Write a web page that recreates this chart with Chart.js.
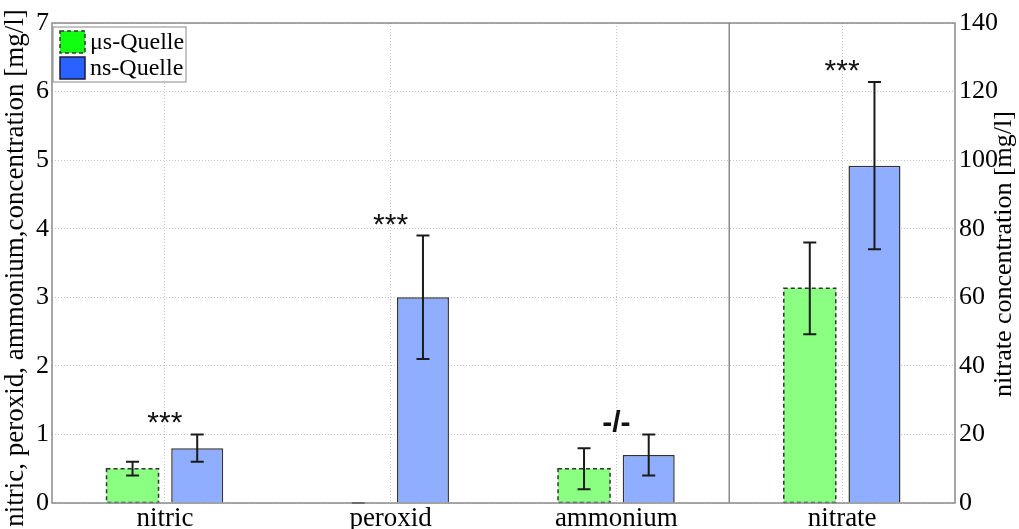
<!DOCTYPE html>
<html>
<head>
<meta charset="utf-8">
<script src="https://cdn.jsdelivr.net/npm/chart.js@4"></script>
<style>
  body { margin: 0; background: #fff; }
  #wrap { width: 1019px; height: 529px; }
</style>
</head>
<body>
<div id="wrap"><canvas id="myChart"></canvas></div>
<script>
// categories and values
var categories = ["nitric", "peroxid", "ammonium", "nitrate"];

// left axis (mg/l): nitric, peroxid, ammonium
var usLeft = [0.5, 0, 0.5, null];
var usLeftErr = [0.1, 0, 0.3, null];
var nsLeft = [0.8, 3.0, 0.7, null];
var nsLeftErr = [0.2, 0.9, 0.3, null];

// right axis (mg/l): nitrate
var usRight = [null, null, null, 62.6];
var usRightErr = [null, null, null, 13.4];
var nsRight = [null, null, null, 98.4];
var nsRightErr = [null, null, null, 24.4];

var marks = ["***", "***", "-/-", "***"];

var leftTitle = "nitric, peroxid, ammonium,concentration [mg/l]";
var rightTitle = "nitrate concentration [mg/l]";

var greenBar = "rgb(138,255,130)";
var blueBar = "rgb(143,174,255)";
var frameColor = "#8a8a8a";
var serif = "'Liberation Serif', 'DejaVu Serif', serif";

// error bars, dashed borders, significance marks, frame, legend, axis titles
var extras = {
    id: "extras",
    beforeDatasetsDraw: function (chart) {
        var ctx = chart.ctx;
        var a = chart.chartArea;
        var x = chart.scales.x;
        // solid separator between ammonium and nitrate
        var sx = (x.getPixelForValue(2) + x.getPixelForValue(3)) / 2;
        ctx.save();
        ctx.strokeStyle = frameColor;
        ctx.lineWidth = 1.5;
        ctx.beginPath();
        ctx.moveTo(sx, a.top);
        ctx.lineTo(sx, a.bottom);
        ctx.stroke();
        ctx.restore();
    },
    afterDatasetsDraw: function (chart) {
        var ctx = chart.ctx;
        var a = chart.chartArea;
        var topPix = [];

        chart.data.datasets.forEach(function (ds, i) {
            var meta = chart.getDatasetMeta(i);
            var scale = chart.scales[ds.yAxisID];
            meta.data.forEach(function (el, j) {
                var v = ds.data[j];
                if (v === null || v === undefined) return;
                // dashed outline for the μs bars
                if (ds.dashed && v > 0) {
                    ctx.save();
                    ctx.strokeStyle = "#333";
                    ctx.lineWidth = 1.5;
                    ctx.setLineDash([4, 3]);
                    ctx.strokeRect(el.x - el.width / 2, el.y, el.width, el.base - el.y);
                    ctx.restore();
                }
                var e = ds.err[j];
                var yt = scale.getPixelForValue(v + e);
                var yb = scale.getPixelForValue(v - e);
                ctx.save();
                ctx.strokeStyle = "#1a1a1a";
                ctx.lineWidth = 2;
                ctx.beginPath();
                ctx.moveTo(el.x, yt);
                ctx.lineTo(el.x, yb);
                ctx.moveTo(el.x - 6.5, yt);
                ctx.lineTo(el.x + 6.5, yt);
                ctx.moveTo(el.x - 6.5, yb);
                ctx.lineTo(el.x + 6.5, yb);
                ctx.stroke();
                ctx.restore();
                if (topPix[j] === undefined || yt < topPix[j]) topPix[j] = yt;
            });
        });

        // significance marks
        ctx.save();
        ctx.fillStyle = "#111";
        ctx.textAlign = "center";
        ctx.textBaseline = "alphabetic";
        marks.forEach(function (m, j) {
            var cx = chart.scales.x.getPixelForValue(j);
            ctx.font = m === "-/-" ? "bold 30px 'Liberation Sans', Arial, sans-serif" : "30px 'Liberation Sans', Arial, sans-serif";
            ctx.fillText(m, cx, topPix[j] - 2);
        });
        ctx.restore();

        // frame
        ctx.save();
        ctx.strokeStyle = frameColor;
        ctx.lineWidth = 1.5;
        ctx.strokeRect(a.left, a.top, a.right - a.left, a.bottom - a.top);
        ctx.restore();

        // legend box
        var lx = a.left + 1, ly = a.top + 4;
        ctx.save();
        ctx.fillStyle = "#fff";
        ctx.fillRect(lx, ly, 133, 55);
        ctx.strokeStyle = frameColor;
        ctx.lineWidth = 1;
        ctx.strokeRect(lx, ly, 133, 55);

        ctx.fillStyle = "#11ff11";
        ctx.fillRect(lx + 7, ly + 4, 25, 22);
        ctx.strokeStyle = "#333";
        ctx.lineWidth = 1.5;
        ctx.setLineDash([4, 3]);
        ctx.strokeRect(lx + 7, ly + 4, 25, 22);
        ctx.setLineDash([]);

        ctx.fillStyle = "#2a62ff";
        ctx.fillRect(lx + 7, ly + 30, 25, 22);
        ctx.strokeStyle = "#1a1a40";
        ctx.strokeRect(lx + 7, ly + 30, 25, 22);

        ctx.fillStyle = "#000";
        ctx.font = "24px " + serif;
        ctx.textAlign = "left";
        ctx.textBaseline = "middle";
        ctx.fillText("μs-Quelle", lx + 37, ly + 16);
        ctx.fillText("ns-Quelle", lx + 37, ly + 42);
        ctx.restore();
    },
    afterDraw: function (chart) {
        // both axis titles read bottom-to-top, as in the original
        var ctx = chart.ctx;
        ctx.save();
        ctx.fillStyle = "#000";
        ctx.textAlign = "center";
        ctx.textBaseline = "middle";
        ctx.font = "27px " + serif;
        ctx.translate(16, 268);
        ctx.rotate(-Math.PI / 2);
        ctx.fillText(leftTitle, 0, 0);
        ctx.restore();

        ctx.save();
        ctx.fillStyle = "#000";
        ctx.textAlign = "center";
        ctx.textBaseline = "middle";
        ctx.font = "26px " + serif;
        ctx.translate(1004, 254);
        ctx.rotate(-Math.PI / 2);
        ctx.fillText(rightTitle, 0, 0);
        ctx.restore();
    }
};

var ctx = document.getElementById("myChart").getContext("2d");

var myChart = new Chart(ctx, {
    type: "bar",
    data: {
        labels: categories,
        datasets: [
            {
                label: "μs-Quelle",
                data: usLeft,
                err: usLeftErr,
                dashed: true,
                yAxisID: "y",
                backgroundColor: greenBar,
                borderWidth: 0,
            },
            {
                label: "ns-Quelle",
                data: nsLeft,
                err: nsLeftErr,
                yAxisID: "y",
                backgroundColor: blueBar,
                borderColor: "#333",
                borderWidth: 1.5,
            },
            {
                label: "μs-Quelle",
                data: usRight,
                err: usRightErr,
                dashed: true,
                yAxisID: "y1",
                backgroundColor: greenBar,
                borderWidth: 0,
            },
            {
                label: "ns-Quelle",
                data: nsRight,
                err: nsRightErr,
                yAxisID: "y1",
                backgroundColor: blueBar,
                borderColor: "#333",
                borderWidth: 1.5,
            },
        ],
    },
    options: {
        responsive: true,
        maintainAspectRatio: false,
        animation: false,
        skipNull: true,
        categoryPercentage: 0.573,
        barPercentage: 0.804,
        layout: { padding: { top: 23, left: 0, right: 0, bottom: 0 } },
        plugins: {
            legend: { display: false },
            tooltip: { enabled: false },
        },
        scales: {
            x: {
                offset: true,
                afterFit: function (s) { s.height = 26; },
                grid: {
                    offset: false,
                    color: "#c4c4c4",
                    lineWidth: 1,
                    drawTicks: false,
                },
                border: { display: false, dash: [1, 2] },
                ticks: {
                    color: "#000",
                    padding: 0,
                    font: { family: serif, size: 27 },
                },
            },
            y: {
                type: "linear",
                position: "left",
                min: 0,
                max: 7,
                afterFit: function (s) { s.width = 52; },
                grid: { color: "#c4c4c4", lineWidth: 1, drawTicks: false },
                border: { display: false, dash: [1, 2] },
                ticks: {
                    stepSize: 1,
                    color: "#000",
                    padding: 3,
                    font: { family: serif, size: 26 },
                },
            },
            y1: {
                type: "linear",
                position: "right",
                min: 0,
                max: 140,
                afterFit: function (s) { s.width = 64; },
                grid: { drawOnChartArea: false, drawTicks: false },
                border: { display: false },
                ticks: {
                    stepSize: 20,
                    color: "#000",
                    padding: 4,
                    font: { family: serif, size: 26 },
                },
            },
        },
    },
    plugins: [extras],
});
</script>
</body>
</html>
